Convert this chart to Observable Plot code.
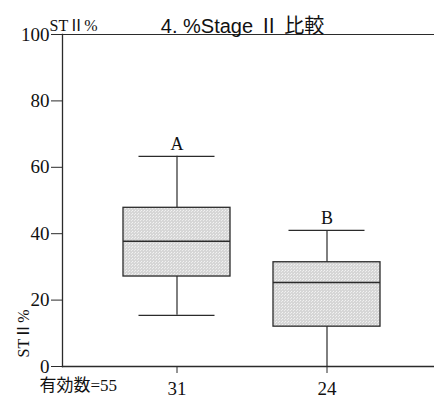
<!DOCTYPE html>
<html>
<head>
<meta charset="utf-8">
<script src="https://cdn.jsdelivr.net/npm/d3@7"></script>
<script src="https://cdn.jsdelivr.net/npm/@observablehq/plot@0.6"></script>
<style>
  html, body { margin: 0; padding: 0; background: #fff; }
  #chart svg { display: block; }
</style>
</head>
<body>
<div id="chart"></div>
<script>
// Groups and their sample sizes
const groups = ["A", "B"];
const counts = [31, 24];
const totalCount = 55;

// Box-plot statistics for %Stage II per group
const whiskerLow = [15.4, 0];
const q1 = [27.1, 12.0];
const median = [37.7, 25.3];
const q3 = [47.8, 31.4];
const whiskerHigh = [63.3, 41.0];

const yTicks = [0, 20, 40, 60, 80, 100];

const rows = groups.map((g, i) => ({
  group: g,
  n: counts[i],
  lo: whiskerLow[i],
  q1: q1[i],
  med: median[i],
  q3: q3[i],
  hi: whiskerHigh[i]
}));

const serif = "'Liberation Serif', 'Noto Sans CJK JP', serif";
const sans = "'Liberation Sans', 'Noto Sans CJK JP', sans-serif";
const ink = "#2b2b2b";

const countOf = new Map(rows.map(d => [d.group, d.n]));

const plot = Plot.plot({
  width: 434,
  height: 399,
  marginLeft: 62,
  marginRight: 0,
  marginTop: 34,
  marginBottom: 33,
  style: { fontFamily: serif, fontSize: "17px", background: "#fff" },
  x: { type: "band", domain: groups, range: [79, 424], padding: 0.285 },
  y: { domain: [0, 100] },
  marks: [
    // whiskers
    Plot.ruleX(rows, { x: "group", y1: "lo", y2: "hi", stroke: ink, strokeWidth: 1.2 }),
    Plot.tickY(rows, { x: "group", y: "hi", stroke: ink, strokeWidth: 1.2, insetLeft: 15.5, insetRight: 15.5 }),
    Plot.tickY(rows, { x: "group", y: "lo", stroke: ink, strokeWidth: 1.2, insetLeft: 15.5, insetRight: 15.5, filter: d => d.lo > 0 }),
    // boxes
    Plot.barY(rows, { x: "group", y1: "q1", y2: "q3", fill: "url(#stipple)", stroke: ink, strokeWidth: 1.3 }),
    Plot.tickY(rows, { x: "group", y: "med", stroke: ink, strokeWidth: 1.5 }),
    // group letters above the upper whiskers
    Plot.text(rows, { x: "group", y: "hi", text: "group", dy: -12, fontSize: 18, fill: "#111" }),
    // axes and frame
    Plot.axisY({ ticks: yTicks, tickSize: 11, tickPadding: 2, fontSize: 19, label: null, stroke: ink, fill: "#111" }),
    Plot.axisX({ tickSize: 7, tickPadding: 8, fontSize: 19, label: null, stroke: ink, fill: "#111",
      tickFormat: g => String(countOf.get(g)) }),
    Plot.frame({ anchor: "left", stroke: ink, strokeWidth: 1.3 }),
    Plot.frame({ anchor: "top", stroke: ink, strokeWidth: 1.2 }),
    Plot.frame({ anchor: "bottom", stroke: ink, strokeWidth: 1.3 }),
    // titles and labels
    Plot.text(["4. %Stage Ⅱ 比較"], { frameAnchor: "top", dx: -6, dy: -16, fontSize: 20, fontFamily: sans, fill: "#111" }),
    Plot.text(["STⅡ%"], { frameAnchor: "top-left", dx: -13, dy: -15, fontSize: 16, textAnchor: "start", fill: "#111" }),
    Plot.text(["STⅡ%"], { frameAnchor: "top-left", dx: -45, dy: 323, rotate: -90, fontSize: 16, fill: "#111" }),
    Plot.text([`有効数=${totalCount}`], { frameAnchor: "bottom-left", dx: -23, dy: 24, fontSize: 17, textAnchor: "start", fill: "#111" })
  ]
});

// stipple texture used for the box fill
const svg = d3.select(plot);
const defs = svg.insert("defs", ":first-child");
const pat = defs.append("pattern")
  .attr("id", "stipple")
  .attr("width", 3).attr("height", 3)
  .attr("patternUnits", "userSpaceOnUse");
pat.append("rect").attr("width", 3).attr("height", 3).attr("fill", "#d6d6d6");
pat.append("rect").attr("x", 0).attr("y", 0).attr("width", 1).attr("height", 1).attr("fill", "#f2f2f2");
pat.append("rect").attr("x", 2).attr("y", 1).attr("width", 1).attr("height", 1).attr("fill", "#ececec");

document.getElementById("chart").appendChild(plot);
</script>
</body>
</html>
